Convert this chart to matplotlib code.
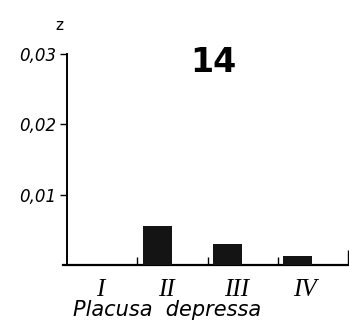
import matplotlib.pyplot as plt
from matplotlib import font_manager

# data
groups = ["I", "II", "III", "IV"]
values = [0.0, 0.0055, 0.003, 0.0013]
yticks = [0.01, 0.02, 0.03]
ytick_labels = ["0,01", "0,02", "0,03"]
species = "Placusa  depressa"
panel = "14"

names = {f.name for f in font_manager.fontManager.ttflist}
narrow = "DejaVu Sans"
for cand in ["Liberation Sans Narrow", "DejaVu Sans Condensed"]:
    if cand in names:
        narrow = cand
        break

fig = plt.figure(figsize=(3.49, 3.24), dpi=100)
W, H = 349, 324
ax = fig.add_axes([63 / W, (H - 265) / H, 285 / W, 211 / H])

x = list(range(len(groups)))
bar_left = [i + 0.08 for i in x]
ax.bar(bar_left, values, width=0.41, align="edge", color="#141414", zorder=3)

ax.set_xlim(-0.06, 4.0)
ax.set_ylim(0, 0.03)
for s in ["top", "right"]:
    ax.spines[s].set_visible(False)
ax.spines["left"].set_position(("data", 0))
ax.spines["left"].set_linewidth(1.4)
ax.spines["bottom"].set_linewidth(1.6)

ax.set_yticks(yticks)
ax.set_yticklabels(ytick_labels, fontstyle="italic", fontsize=12, family=narrow)
ax.tick_params(axis="y", direction="out", length=5, width=1.0, pad=3)

# group boundary ticks on the baseline, pointing up
ax.set_xticks([1, 2, 3, 4])
ax.set_xticklabels([])
ax.tick_params(axis="x", direction="in", length=6, width=1.0)
ax.xaxis.get_major_ticks()[-1].tick1line.set_markersize(11)

label_x = [0.47, 1.42, 2.42, 3.39]
for lx, g in zip(label_x, groups):
    ax.text(lx, -0.0036, g, ha="center", va="center", fontsize=18,
            fontstyle="italic", family="Liberation Serif", transform=ax.transData)

fig.text(167 / W, 1 - 310 / H, species, ha="center", va="center",
         fontsize=15, fontstyle="italic", family="DejaVu Sans")
fig.text(59 / W, 1 - 25 / H, "z", ha="center", va="center", fontsize=11)
fig.text(213 / W, 1 - 62 / H, panel, ha="center", va="center",
         fontsize=24, fontweight="bold")

fig.savefig("out.png", dpi=100)
